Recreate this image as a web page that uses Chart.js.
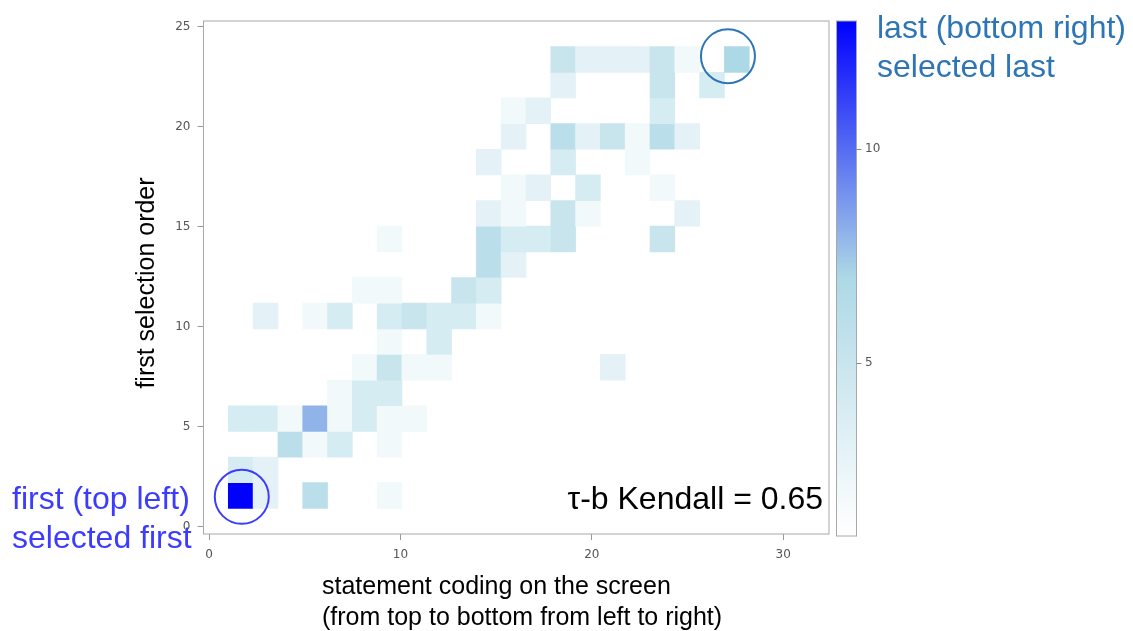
<!DOCTYPE html>
<html>
<head>
<meta charset="utf-8">
<script src="https://cdn.jsdelivr.net/npm/chart.js@4.4.1/dist/chart.umd.min.js"></script>
<style>
  html, body { margin: 0; padding: 0; background: #ffffff; overflow: hidden; }
  #wrap { position: relative; width: 1133px; height: 631px; }
</style>
</head>
<body>
<div id="wrap"><canvas id="chart" width="1133" height="631"></canvas></div>
<script>
// ---------- data ----------
// x bin index (statement coding on the screen), counted from the left edge of the axis
const cellX = [
  1, 2, 4, 7,
  1, 2,
  3, 4, 5, 7,
  1, 2, 3, 4, 5, 6, 7, 8,
  5, 6, 7,
  6, 7, 8, 9, 16,
  7, 9,
  2, 4, 5, 7, 8, 9, 10, 11,
  6, 7, 10, 11,
  11, 12,
  7, 11, 12, 13, 14, 18,
  11, 12, 14, 15, 19,
  12, 13, 15, 18,
  11, 14, 17,
  12, 14, 15, 16, 17, 18, 19,
  12, 13, 18,
  14, 18, 20,
  14, 15, 16, 17, 18, 19, 21
];
// y bin index (first selection order), counted from the bottom edge of the axis
const cellY = [
  1, 1, 1, 1,
  2, 2,
  3, 3, 3, 3,
  4, 4, 4, 4, 4, 4, 4, 4,
  5, 5, 5,
  6, 6, 6, 6, 6,
  7, 7,
  8, 8, 8, 8, 8, 8, 8, 8,
  9, 9, 9, 9,
  10, 10,
  11, 11, 11, 11, 11, 11,
  12, 12, 12, 12, 12,
  13, 13, 13, 13,
  14, 14, 14,
  15, 15, 15, 15, 15, 15, 15,
  16, 16, 16,
  17, 17, 17,
  18, 18, 18, 18, 18, 18, 18
];
// frequency in each cell
const cellCount = [
  13, 3, 6, 2,
  4, 3,
  6, 2, 4, 2,
  4, 4, 2, 8, 2, 4, 2, 2,
  2, 4, 4,
  2, 5, 2, 2, 3,
  2, 4,
  3, 2, 4, 4, 5, 4, 4, 2,
  2, 2, 5, 4,
  6, 3,
  2, 6, 4, 4, 5, 5,
  3, 2, 5, 2, 3,
  2, 3, 4, 2,
  3, 4, 2,
  3, 6, 3, 5, 2, 6, 3,
  2, 3, 4,
  3, 5, 4,
  5, 3, 3, 3, 5, 2, 7
];
// binning of the two variables (data units)
const xBinOrigin = -0.29, xBinWidth = 1.296;
const yBinOrigin = -0.36, yBinWidth = 1.282;
// axis ranges and tick labels
const xRange = [-0.29, 32.39];
const yRange = [-0.36, 25.28];
const xTickValues = [0, 10, 20, 30];
const yTickValues = [0, 5, 10, 15, 20, 25];
const countRange = [1, 13];
const colorTickValues = [5, 10];
// texts
const xTitleLines = ['statement coding on the screen', '(from top to bottom from left to right)'];
const yTitle = 'first selection order';
const statText = '\u03C4-b Kendall = 0.65';
const noteFirst = ['first (top left)', 'selected first'];
const noteLast = ['last (bottom right)', 'selected last'];
// highlighted spots (data coordinates)
const circleFirst = { x: 1.71, y: 1.50 };
const circleLast = { x: 27.11, y: 23.52 };

// ---------- colour ramp ----------
const rampColors = [[255, 255, 255], [173, 216, 230], [0, 0, 255]];
function rampColor(v) {
  let t = (v - countRange[0]) / (countRange[1] - countRange[0]);
  t = Math.max(0, Math.min(1, t));
  const seg = t < 0.5 ? 0 : 1;
  const f = seg === 0 ? t / 0.5 : (t - 0.5) / 0.5;
  const a = rampColors[seg], b = rampColors[seg + 1];
  const c = a.map((av, i) => Math.round(av + (b[i] - av) * f));
  return 'rgb(' + c.join(',') + ')';
}

const cells = cellX.map((c, i) => ({
  x: xBinOrigin + (c + 0.5) * xBinWidth,
  y: [yBinOrigin + cellY[i] * yBinWidth, yBinOrigin + (cellY[i] + 1) * yBinWidth]
}));

function drawText(ctx, text, x, y, opt) {
  ctx.save();
  ctx.font = opt.font;
  ctx.fillStyle = opt.color;
  ctx.textAlign = opt.align || 'left';
  ctx.textBaseline = 'alphabetic';
  ctx.translate(x, y);
  if (opt.rotate) ctx.rotate(opt.rotate);
  ctx.fillText(text, 0, 0);
  ctx.restore();
}

const decor = {
  id: 'decor',
  afterDraw(chart) {
    const { ctx, chartArea: a, scales } = chart;
    ctx.save();
    // plot frame
    ctx.strokeStyle = '#a8a8a8';
    ctx.lineWidth = 1;
    ctx.strokeRect(a.left, a.top, a.right - a.left, a.bottom - a.top);

    // colour bar
    const cb = scales.cb;
    const top = cb.getPixelForValue(countRange[1]);
    const bot = cb.getPixelForValue(countRange[0]);
    const x0 = a.right + 7.5, w = 20;
    const g = ctx.createLinearGradient(0, bot, 0, top);
    g.addColorStop(0, 'rgb(255,255,255)');
    g.addColorStop(0.5, 'rgb(173,216,230)');
    g.addColorStop(1, 'rgb(0,0,255)');
    ctx.fillStyle = g;
    ctx.fillRect(x0, top, w, bot - top + 2);
    ctx.strokeStyle = '#a8a8a8';
    ctx.strokeRect(x0, top, w, bot - top + 2);
    ctx.strokeStyle = '#888';
    colorTickValues.forEach(v => {
      const y = Math.round(cb.getPixelForValue(v)) + 0.5;
      ctx.beginPath();
      ctx.moveTo(x0 + w, y);
      ctx.lineTo(x0 + w + 5, y);
      ctx.stroke();
    });

    // circles
    const xs = scales.x, ys = scales.y;
    ctx.lineWidth = 2;
    ctx.strokeStyle = '#3c3cff';
    ctx.beginPath();
    ctx.arc(xs.getPixelForValue(circleFirst.x), ys.getPixelForValue(circleFirst.y), 27, 0, Math.PI * 2);
    ctx.stroke();
    ctx.strokeStyle = '#2e75b6';
    ctx.beginPath();
    ctx.arc(xs.getPixelForValue(circleLast.x), ys.getPixelForValue(circleLast.y), 27, 0, Math.PI * 2);
    ctx.stroke();
    ctx.restore();

    // axis titles
    const tf = '25px "Liberation Sans", Arial, sans-serif';
    drawText(ctx, xTitleLines[0], 322, 594, { font: tf, color: '#000' });
    drawText(ctx, xTitleLines[1], 322, 625, { font: tf, color: '#000' });
    drawText(ctx, yTitle, 154, 283, { font: tf, color: '#000', align: 'center', rotate: -Math.PI / 2 });

    // statistic
    const af = '32px "Liberation Sans", Arial, sans-serif';
    drawText(ctx, statText, 823, 509, { font: af, color: '#000', align: 'right' });

    // notes
    drawText(ctx, noteFirst[0], 12, 509, { font: af, color: '#3c3cff' });
    drawText(ctx, noteFirst[1], 12, 548, { font: af, color: '#3c3cff' });
    drawText(ctx, noteLast[0], 877, 38, { font: af, color: '#2e75b6' });
    drawText(ctx, noteLast[1], 877, 77, { font: af, color: '#2e75b6' });
  }
};

const tickFont = { family: '"DejaVu Sans", sans-serif', size: 12 };

new Chart(document.getElementById('chart'), {
  type: 'bar',
  data: {
    datasets: [{
      data: cells,
      backgroundColor: ctx => rampColor(cellCount[ctx.dataIndex]),
      borderWidth: 0,
      barPercentage: 1,
      categoryPercentage: 1,
      grouped: false
    }]
  },
  options: {
    responsive: false,
    animation: false,
    events: [],
    layout: { padding: { top: 21, left: 0, right: 0, bottom: 0 } },
    plugins: { legend: { display: false }, tooltip: { enabled: false }, title: { display: false } },
    scales: {
      x: {
        type: 'linear', position: 'bottom', min: xRange[0], max: xRange[1], offset: false,
        afterBuildTicks: s => { s.ticks = xTickValues.map(v => ({ value: v })); },
        afterFit: s => { s.height = 97; },
        grid: { display: true, drawOnChartArea: false, drawTicks: true, tickLength: 6, color: '#9a9a9a', offset: false },
        border: { display: false },
        ticks: { font: tickFont, color: '#555', padding: 8, maxRotation: 0, autoSkip: false }
      },
      y: {
        type: 'linear', position: 'left', min: yRange[0], max: yRange[1],
        afterBuildTicks: s => { s.ticks = yTickValues.map(v => ({ value: v })); },
        afterFit: s => { s.width = 203.5; },
        grid: { display: true, drawOnChartArea: false, drawTicks: true, tickLength: 6, color: '#9a9a9a' },
        border: { display: false },
        ticks: { font: tickFont, color: '#555', padding: 7, autoSkip: false }
      },
      cb: {
        type: 'linear', position: 'right', min: countRange[0], max: countRange[1],
        afterBuildTicks: s => { s.ticks = colorTickValues.map(v => ({ value: v })); },
        afterFit: s => { s.width = 1133 - 829; },
        grid: { display: false, drawTicks: true, tickLength: 33 },
        border: { display: false },
        ticks: { font: tickFont, color: '#555', padding: 3, autoSkip: false }
      }
    }
  },
  plugins: [decor]
});
</script>
</body>
</html>
